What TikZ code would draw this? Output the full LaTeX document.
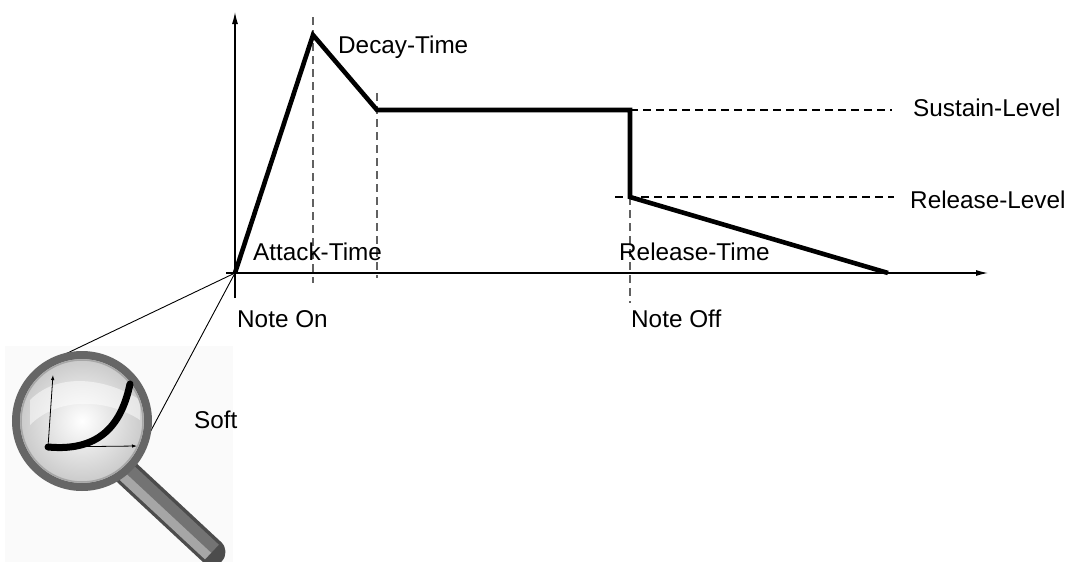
\documentclass[tikz,border=0pt]{standalone}
\usepackage{fontspec}
\setmainfont{Liberation Sans}
\usetikzlibrary{arrows.meta,calc}
\begin{document}
\begin{tikzpicture}[x=1pt,y=-1pt,
  lbl/.style={anchor=base west, inner sep=0pt, font=\fontsize{24.3}{28}\selectfont},
  axis/.style={line width=1.1pt, -{Latex[length=12pt,width=6pt]}},
  env/.style={line width=4.6pt, line join=miter},
  guide/.style={line width=1.2pt, dash pattern=on 8pt off 5pt},
  vguide/.style={line width=1.6pt, dash pattern=on 8pt off 5pt, draw=black!62},
  tangent/.style={line width=0.9pt},
  miniaxis/.style={line width=0.8pt, -{Latex[length=5pt,width=3.5pt]}},
]
\useasboundingbox (0,0) rectangle (1072,562);

% magnifier backdrop
\fill[black!2] (5,346) rectangle (233,562);

% key points of the envelope
\coordinate (O) at (235,273);
\coordinate (P) at (313,35);
\coordinate (D) at (377,110);
\coordinate (S) at (630,110);
\coordinate (R) at (630,197);
\coordinate (E) at (888,273);

% axes
\coordinate (xs) at (226,273);
\coordinate (xe) at (988,273);
\coordinate (ys) at (235,298);
\coordinate (ye) at (235,12);
\draw[axis] (xs) -- (xe);
\draw[axis] (ys) -- (ye);

% vertical guides
\coordinate (p1) at (313,17);
\coordinate (p2) at (313,283);
\coordinate (d1) at (377,93);
\coordinate (d2) at (377,278);
\coordinate (r2) at (630,303);
\draw[vguide] (p1) -- (p2);
\draw[vguide] (d1) -- (d2);
\draw[vguide] (R) -- (r2);

% level guides
\coordinate (s2) at (892,110);
\coordinate (l1) at (615,197);
\coordinate (l2) at (894,197);
\draw[guide] (S) -- (s2);
\draw[guide] (l1) -- (l2);

% envelope
\draw[env] (O) -- (P) -- (D) -- (S) -- (R) -- (E);

% labels
\node[lbl] (decay)   at (338,53)  {Decay-Time};
\node[lbl] (sustain) at (913,116) {Sustain-Level};
\node[lbl] (rlevel)  at (910,208) {Release-Level};
\node[lbl] (attack)  at (253,260) {Attack-Time};
\node[lbl] (rtime)   at (619,260) {Release-Time};
\node[lbl] (noteon)  at (237,327) {Note On};
\node[lbl] (noteoff) at (631,327) {Note Off};
\node[lbl] (soft)    at (194,428) {Soft};

% zoom lines from the origin to the lens
\coordinate (t1) at (57,358);
\coordinate (t2) at (147,438);
\draw[tangent] (O) -- (t1);
\draw[tangent] (O) -- (t2);

% handle
\coordinate (h1) at (125,471);
\coordinate (h2) at (212,552);
\coordinate (h1b) at (121,475);
\coordinate (h2b) at (208,556);
\draw[line width=27pt, black!70, line cap=round] (h1) -- (h2);
\draw[line width=20pt, black!55] (h1) -- (h2);
\draw[line width=9pt, black!35] (h1b) -- (h2b);

% lens and rim
\coordinate (C) at (82,421);
\shade[inner color=white, outer color=black!22] (C) circle[radius=66];
\fill[white, opacity=0.5] (30,400) .. controls (60,370) and (110,380) .. (140,400)
  -- (140,420) .. controls (110,400) and (60,395) .. (30,425) -- cycle;
\draw[line width=8pt, black!60] (C) circle[radius=66];
\draw[line width=1.5pt, black!35] (C) circle[radius=61];

% miniature soft curve
\coordinate (m0) at (48,447);
\coordinate (my) at (53,375);
\coordinate (mx) at (137,446);
\coordinate (m1) at (130,384);
\draw[miniaxis] (m0) -- (my);
\draw[miniaxis] (m0) -- (mx);
\draw[line width=7pt, line cap=round] (m0) .. controls (102,452) and (122,422) .. (m1);
\end{tikzpicture}
\end{document}
